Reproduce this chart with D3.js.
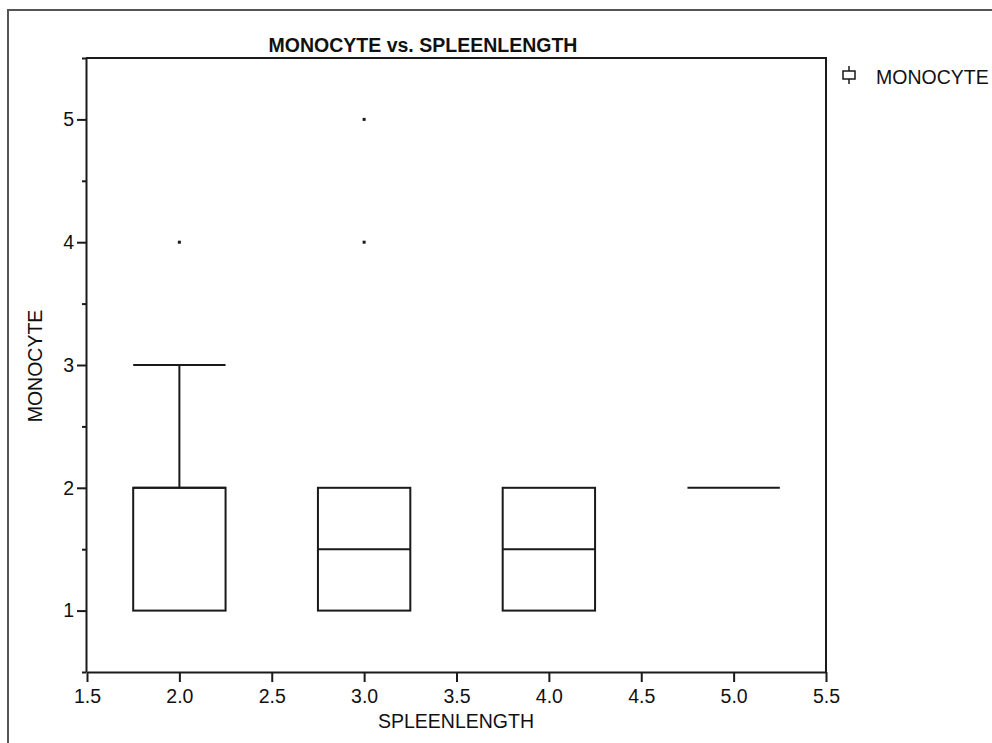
<!DOCTYPE html>
<html>
<head>
<meta charset="utf-8">
<script src="https://cdn.jsdelivr.net/npm/d3@7"></script>
<style>
  html, body { margin: 0; padding: 0; background: #fff; }
  svg { display: block; font-family: "Liberation Sans", Arial, sans-serif; }
</style>
</head>
<body>
<div id="chart"></div>
<script>
/* ---- data ---- */
const spleenLength = [2, 3, 4, 5];
const q1           = [1, 1, 1, 2];
const medians      = [2, 1.5, 1.5, 2];
const q3           = [2, 2, 2, 2];
const whiskerLow   = [1, 1, 1, 2];
const whiskerHigh  = [3, 2, 2, 2];
const outlierX     = [2, 3, 3];
const outlierY     = [4, 4, 5];
const xTicks       = [1.5, 2.0, 2.5, 3.0, 3.5, 4.0, 4.5, 5.0, 5.5];
const yTicks       = [1, 2, 3, 4, 5];
const yMinorTicks  = [0.5, 1.5, 2.5, 3.5, 4.5, 5.5];

const W = 992, H = 743;
const ink = '#1a1a1a';
const fontSize = '19.5px';

const svg = d3.select('#chart').append('svg').attr('width', W).attr('height', H);

// outer window frame (cropped at right/bottom)
svg.append('path').attr('d', `M8,${H}V10H${W}`)
  .attr('fill', 'none').attr('stroke', '#555').attr('stroke-width', 2);

const plot = { left: 86, right: 826, top: 58, bottom: 672 };
const x = d3.scaleLinear().domain([1.5, 5.5]).range([plot.left + 1, plot.right]);
const y = d3.scaleLinear().domain([0.5, 5.5]).range([plot.bottom, plot.top]);
const halfW = 0.25;

/* --- axes --- */
const gx = svg.append('g').attr('transform', `translate(0,${plot.bottom})`)
  .call(d3.axisBottom(x).tickValues(xTicks).tickFormat(d3.format('.1f')).tickSize(10).tickSizeOuter(0));
gx.selectAll('text').attr('y', 31).attr('dy', 0);

const gy = svg.append('g').attr('transform', `translate(${plot.left},0)`)
  .call(d3.axisLeft(y).tickValues(yTicks).tickFormat(d3.format('d')).tickSize(9).tickSizeOuter(0));
gy.selectAll('text').attr('x', -12);

const gym = svg.append('g').attr('transform', `translate(${plot.left},0)`)
  .call(d3.axisLeft(y).tickValues(yMinorTicks).tickFormat('').tickSize(4).tickSizeOuter(0));
gym.select('.domain').remove();

[gx, gy, gym].forEach(g => {
  g.selectAll('path, line').attr('stroke', ink).attr('stroke-width', 2);
  g.selectAll('text').attr('fill', '#111').style('font-size', fontSize).style('font-family', '"Liberation Sans", Arial, sans-serif');
});

// top & right frame lines
svg.append('path').attr('d', `M${plot.left},${plot.top}H${plot.right}V${plot.bottom}`)
  .attr('fill', 'none').attr('stroke', ink).attr('stroke-width', 2);

/* --- boxes --- */
const boxes = spleenLength.map((s, i) => ({ s, q1: q1[i], med: medians[i], q3: q3[i], lo: whiskerLow[i], hi: whiskerHigh[i] }));
const gb = svg.append('g').attr('fill', 'none').attr('stroke', ink).attr('stroke-width', 2);

boxes.forEach(b => {
  const x0 = x(b.s - halfW), x1 = x(b.s + halfW), xc = x(b.s);
  gb.append('rect').attr('x', x0).attr('y', y(b.q3)).attr('width', x1 - x0).attr('height', y(b.q1) - y(b.q3));
  gb.append('line').attr('x1', x0).attr('x2', x1).attr('y1', y(b.med)).attr('y2', y(b.med));
  if (b.hi > b.q3) {
    gb.append('line').attr('x1', xc).attr('x2', xc).attr('y1', y(b.q3)).attr('y2', y(b.hi));
    gb.append('line').attr('x1', x0).attr('x2', x1).attr('y1', y(b.hi)).attr('y2', y(b.hi));
  }
  if (b.lo < b.q1) {
    gb.append('line').attr('x1', xc).attr('x2', xc).attr('y1', y(b.q1)).attr('y2', y(b.lo));
    gb.append('line').attr('x1', x0).attr('x2', x1).attr('y1', y(b.lo)).attr('y2', y(b.lo));
  }
});

svg.append('g').selectAll('rect').data(outlierX.map((v, i) => [v, outlierY[i]])).join('rect')
  .attr('x', d => x(d[0]) - 1.5).attr('y', d => y(d[1]) - 1.5)
  .attr('width', 3).attr('height', 3).attr('fill', ink);

/* --- titles --- */
svg.append('text').attr('x', 423).attr('y', 52).attr('text-anchor', 'middle')
  .style('font-size', fontSize).style('font-weight', 'bold').attr('fill', '#111')
  .text('MONOCYTE vs. SPLEENLENGTH');

svg.append('text').attr('x', 456).attr('y', 728).attr('text-anchor', 'middle')
  .style('font-size', fontSize).attr('fill', '#111').text('SPLEENLENGTH');

svg.append('text').attr('transform', 'translate(42,366) rotate(-90)').attr('text-anchor', 'middle')
  .style('font-size', fontSize).attr('fill', '#111').text('MONOCYTE');

/* --- legend --- */
const lg = svg.append('g').attr('transform', 'translate(849,75)');
lg.append('line').attr('y1', -9).attr('y2', 9).attr('stroke', ink).attr('stroke-width', 1.5);
lg.append('rect').attr('x', -6).attr('y', -4).attr('width', 12).attr('height', 8)
  .attr('fill', '#fff').attr('stroke', ink).attr('stroke-width', 1.5);
lg.append('text').attr('x', 27).attr('y', 9).style('font-size', fontSize).attr('fill', '#111').text('MONOCYTE');
</script>
</body>
</html>
